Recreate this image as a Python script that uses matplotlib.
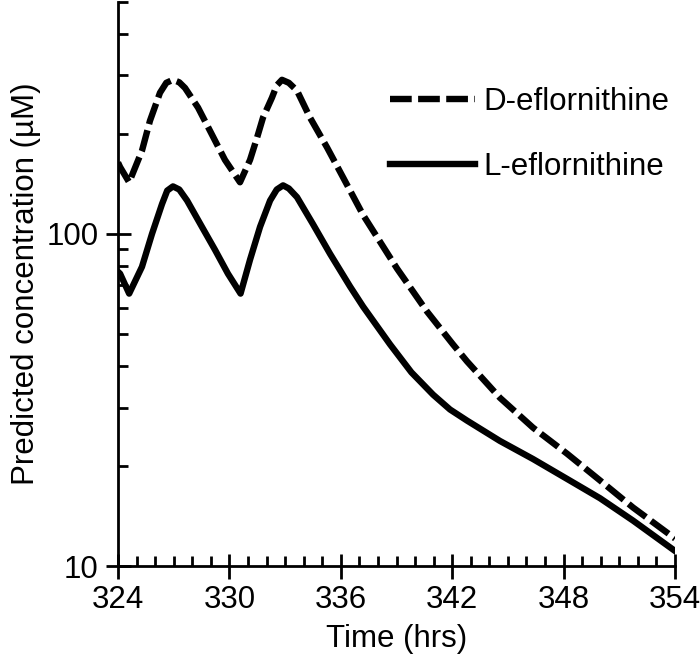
import matplotlib.pyplot as plt
from matplotlib.ticker import FixedLocator, NullFormatter

plt.rcParams['font.family'] = ['Liberation Sans', 'DejaVu Sans']

# values
d_time = [324.0, 324.11, 324.6, 325.29, 325.72, 326.26, 326.6, 326.96, 327.3, 327.61, 328.31,
          329.06, 329.76, 330.57, 331.11, 331.49, 331.81, 332.29, 332.55, 332.83, 333.2, 333.64,
          334.34, 335.26, 336.12, 337.2, 339.03, 340.64, 342.04, 342.8, 344.57, 346.35, 348.18,
          349.96, 351.74, 354.0]
d_conc = [164, 159, 143, 178, 219, 266, 285, 291, 286, 275, 240,
          199, 167, 143, 167, 195, 224, 257, 280, 291, 285, 270,
          224, 182, 148, 114, 78.6, 58.4, 46.5, 41.3, 32.1, 26.1, 21.8,
          18.1, 15.0, 12.1]

l_time = [324.0, 324.11, 324.6, 325.29, 325.83, 326.37, 326.65, 326.96, 327.3, 327.72, 328.52,
          329.22, 329.92, 330.6, 331.11, 331.65, 332.19, 332.55, 332.89, 333.2, 333.64, 334.5,
          335.42, 336.5, 337.2, 338.65, 339.8, 340.97, 341.88, 342.8, 344.57, 346.35, 348.18,
          349.96, 351.74, 354.0]
l_conc = [76.9, 75.9, 66.1, 79.6, 100, 123, 135, 139, 136, 126, 105,
          89.6, 75.9, 66.1, 83.6, 105, 126, 136, 140, 137, 129, 107,
          87.1, 69.4, 60.4, 46.5, 38.3, 32.8, 29.6, 27.4, 23.8, 21.0, 18.3,
          16.0, 13.7, 11.1]

x_ticks = [324, 330, 336, 342, 348, 354]

fig = plt.figure(figsize=(7, 6.67), dpi=100)
ax = fig.add_axes([0.1686, 0.1514, 0.7957, 0.846])

ax.plot(d_time, d_conc, color='black', lw=4.6, dashes=(3.4, 1.0), label='D-eflornithine')
ax.plot(l_time, l_conc, color='black', lw=4.6, label='L-eflornithine')

ax.set_yscale('log')
ax.set_ylim(10, 500)
ax.set_xlim(324, 354)
ax.set_xticks(x_ticks)
ax.xaxis.set_minor_locator(FixedLocator(range(324, 355)))
ax.yaxis.set_major_locator(FixedLocator([10, 100]))
ax.yaxis.set_major_formatter(plt.FuncFormatter(lambda v, p: '%d' % v))
ax.yaxis.set_minor_locator(FixedLocator([20, 30, 40, 50, 60, 70, 80, 90, 200, 300, 400, 500]))
ax.yaxis.set_minor_formatter(NullFormatter())

for s in ['top', 'right']:
    ax.spines[s].set_visible(False)
for s in ['left', 'bottom']:
    ax.spines[s].set_linewidth(2)

ax.tick_params(which='major', direction='inout', length=18, width=2, labelsize=22.5, pad=5)
ax.tick_params(which='minor', direction='in', length=7, width=2)

ax.set_xlabel('Time (hrs)', fontsize=22.5, labelpad=6)
ax.set_ylabel('Predicted concentration (µM)', fontsize=22.5, labelpad=4)

ax.legend(loc='upper left', bbox_to_anchor=(0.438, 0.898), frameon=False, fontsize=22.5,
          handlelength=2.72, handletextpad=0.26, labelspacing=1.1)

fig.savefig('out.png', dpi=100)
